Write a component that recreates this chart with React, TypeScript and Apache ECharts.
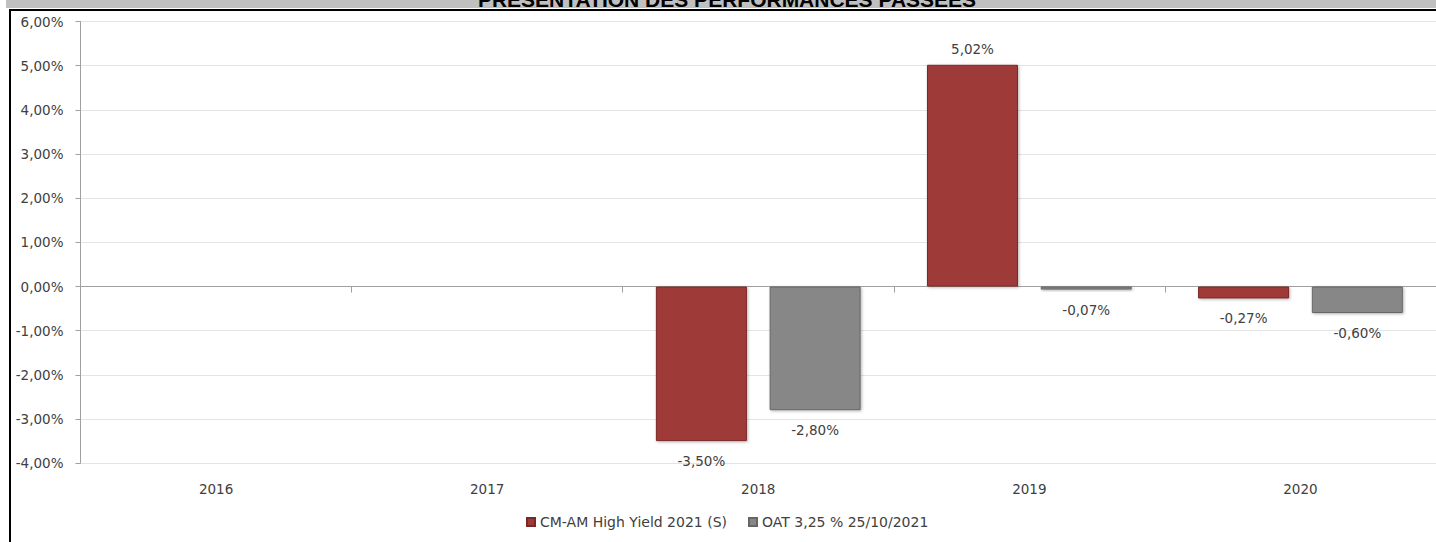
import React, { useEffect, useRef } from "react";
import * as echarts from "echarts";

const titleText = "PRESENTATION DES PERFORMANCES PASSEES";
const categories = ["2016", "2017", "2018", "2019", "2020"];
const fundName = "CM-AM High Yield 2021 (S)";
const benchName = "OAT 3,25 % 25/10/2021";
const fundValues: (number | null)[] = [null, null, -3.5, 5.02, -0.27];
const benchValues: (number | null)[] = [null, null, -2.8, -0.07, -0.6];
const yMin = -4;
const yMax = 6;
const yInterval = 1;

const FONT = "DejaVu Sans";
const FS = 13.5;
const TXT = "#404040";

const fmt = (v: number) => v.toFixed(2).replace(".", ",") + "%";

const toItems = (arr: (number | null)[]) =>
  arr.map((v) =>
    v === null
      ? "-"
      : {
          value: v,
          label: {
            position: v >= 0 ? "top" : "bottom",
            distance: v >= 0 ? 9 : 13,
          },
        }
  );

export default function App() {
  const ref = useRef<HTMLDivElement>(null);
  useEffect(() => {
    if (!ref.current) return;
    const chart = echarts.init(ref.current, undefined, { renderer: "svg" });
    const labelCfg = {
      show: true,
      formatter: (p: any) => (typeof p.value === "number" ? fmt(p.value) : ""),
      color: TXT,
      fontFamily: FONT,
      fontSize: FS,
    };
    chart.setOption({
      animation: false,
      backgroundColor: "#ffffff",
      graphic: [
        { type: "rect", shape: { x: 6, y: 0, width: 1430, height: 8 }, style: { fill: "#c0c0c0" } },
        { type: "rect", shape: { x: 9, y: 9, width: 1427, height: 2 }, style: { fill: "#000000" } },
        { type: "rect", shape: { x: 9, y: 9, width: 2, height: 533 }, style: { fill: "#000000" } },
        {
          type: "text",
          x: 727,
          y: -0.5,
          style: {
            text: titleText,
            font: 'bold 21px "Liberation Sans"',
            fill: "#000000",
            textAlign: "center",
            textVerticalAlign: "middle",
          },
        },
      ],
      grid: { left: 80.5, top: 21.5, width: 1359, bottom: 78.8, containLabel: false },
      legend: {
        data: [fundName, benchName],
        left: 521,
        top: 510,
        icon: "rect",
        itemWidth: 8,
        itemHeight: 8,
        itemGap: 21,
        textStyle: { color: TXT, fontFamily: FONT, fontSize: 14 },
      },
      xAxis: [
        {
          type: "category",
          data: categories,
          boundaryGap: true,
          axisLine: { show: true, onZero: true, lineStyle: { color: "#a0a0a0", width: 1 } },
          axisTick: { show: true, length: 6, interval: 0, lineStyle: { color: "#a0a0a0" } },
          axisLabel: { show: false },
          splitLine: { show: false },
        },
        {
          type: "category",
          data: categories,
          position: "bottom",
          boundaryGap: true,
          axisLine: { show: false, onZero: false },
          axisTick: { show: false },
          axisLabel: { show: true, margin: 19, color: TXT, fontFamily: FONT, fontSize: FS },
          splitLine: { show: false },
        },
      ],
      yAxis: {
        type: "value",
        min: yMin,
        max: yMax,
        interval: yInterval,
        axisLine: { show: true, lineStyle: { color: "#a0a0a0" } },
        axisTick: { show: true, length: 5, lineStyle: { color: "#a0a0a0" } },
        axisLabel: {
          margin: 17,
          color: TXT,
          fontFamily: FONT,
          fontSize: FS,
          formatter: (v: number) => fmt(v),
        },
        splitLine: { show: true, lineStyle: { color: "#e4e4e4", width: 1 } },
      },
      series: [
        {
          name: fundName,
          type: "bar",
          xAxisIndex: 0,
          data: toItems(fundValues),
          barWidth: 91,
          barGap: "25%",
          itemStyle: {
            color: "#9e3b39",
            borderColor: "#7a2826",
            borderWidth: 1,
            shadowColor: "rgba(0,0,0,0.3)",
            shadowBlur: 3,
            shadowOffsetX: 1,
            shadowOffsetY: 1,
          },
          label: labelCfg,
        },
        {
          name: benchName,
          type: "bar",
          xAxisIndex: 0,
          data: toItems(benchValues),
          barWidth: 91,
          barGap: "25%",
          itemStyle: {
            color: "#878787",
            borderColor: "#666666",
            borderWidth: 1,
            shadowColor: "rgba(0,0,0,0.3)",
            shadowBlur: 3,
            shadowOffsetX: 1,
            shadowOffsetY: 1,
          },
          label: labelCfg,
        },
      ],
    });
    return () => chart.dispose();
  }, []);
  return (
    <div
      ref={ref}
      style={{ position: "fixed", left: 0, top: 0, width: 1436, height: 542, background: "#fff" }}
    />
  );
}
